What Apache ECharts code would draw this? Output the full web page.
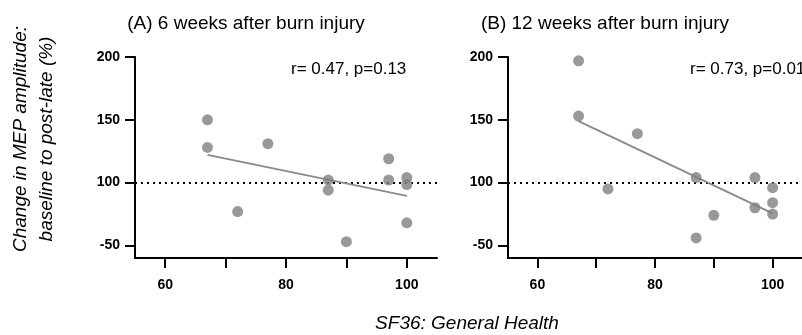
<!DOCTYPE html>
<html>
<head>
<meta charset="utf-8">
<script src="https://cdn.jsdelivr.net/npm/echarts@6/dist/echarts.min.js"></script>
<style>
  html, body { margin: 0; padding: 0; background: #fff; }
  #main { width: 802px; height: 335px; }
</style>
</head>
<body>
<div id="main"></div>
<script>
// panel A: 6 weeks
const sf36A = [67, 67, 72, 77, 87, 87, 90, 97, 97, 100, 100, 100]
const mepA = [150, 128, 77, 131, 102, 94, 53, 119, 102, 104, 98.5, 68]
const fitA = [[67, 122], [100, 89.5]]
// panel B: 12 weeks
const sf36B = [67, 67, 72, 77, 87, 87, 90, 97, 97, 100, 100, 100]
const mepB = [197, 153, 95, 139, 104, 56, 74, 104, 80, 96, 84, 75]
const fitB = [[67, 149], [100, 75.5]]

const titles = ['(A) 6 weeks after burn injury', '(B) 12 weeks after burn injury']
const stats = ['r= 0.47, p=0.13', 'r= 0.73, p=0.01']
const yTickValues = [50, 100, 150, 200]
const yTickLabels = ['-50', '100', '150', '200']
const xTickValues = [60, 70, 80, 90, 100]
const xLabelValues = [60, 80, 100]

const dom = echarts.init(document.getElementById('main'))

const pointColor = '#808080'
const font = 'Liberation Sans, Arial, sans-serif'

function toPairs (xs, ys) {
  return xs.map((x, i) => [x, ys[i]])
}

function makeX (gi) {
  return {
    type: 'value',
    gridIndex: gi,
    min: 55,
    max: 105,
    axisLine: { onZero: false, lineStyle: { color: '#000', width: 2 } },
    axisTick: { customValues: xTickValues, length: 10, lineStyle: { color: '#000', width: 2 } },
    axisLabel: {
      customValues: xLabelValues,
      margin: 20,
      color: '#000',
      fontWeight: 'bold',
      fontSize: 14,
      fontFamily: font
    },
    splitLine: { show: false }
  }
}

function makeY (gi) {
  return {
    type: 'value',
    gridIndex: gi,
    min: 40,
    max: 200,
    axisLine: { show: true, onZero: false, lineStyle: { color: '#000', width: 2 } },
    axisTick: { show: true, customValues: yTickValues, length: 10, lineStyle: { color: '#000', width: 2 } },
    axisLabel: {
      customValues: yTickValues,
      formatter: v => yTickLabels[yTickValues.indexOf(v)],
      margin: 15,
      color: '#000',
      fontWeight: 'bold',
      fontSize: 14,
      fontFamily: font
    },
    splitLine: { show: false }
  }
}

function makeSeries (gi, pts, fit) {
  return [{
    type: 'scatter',
    xAxisIndex: gi,
    yAxisIndex: gi,
    symbolSize: 11,
    itemStyle: { color: pointColor },
    data: pts,
    z: 3,
    markLine: {
      silent: true,
      symbol: 'none',
      label: { show: false },
      lineStyle: { color: '#000', width: 2, type: [2, 4] },
      data: [{ yAxis: 100 }],
      z: 1
    }
  }, {
    type: 'line',
    xAxisIndex: gi,
    yAxisIndex: gi,
    symbol: 'none',
    lineStyle: { color: '#8a8a8a', width: 1.8 },
    data: fit,
    z: 2
  }]
}

const option = {
  backgroundColor: '#fff',
  animation: false,
  grid: [
    { left: 135, top: 57, width: 302, height: 201 },
    { left: 508, top: 57, width: 302, height: 201 }
  ],
  xAxis: [makeX(0), makeX(1)],
  yAxis: [makeY(0), makeY(1)],
  series: [
    ...makeSeries(0, toPairs(sf36A, mepA), fitA),
    ...makeSeries(1, toPairs(sf36B, mepB), fitB)
  ],
  graphic: [
    { type: 'text', x: 246, y: 24, style: { text: titles[0], fontSize: 19, fontFamily: font, fill: '#000', align: 'center', verticalAlign: 'middle' } },
    { type: 'text', x: 605, y: 24, style: { text: titles[1], fontSize: 19, fontFamily: font, fill: '#000', align: 'center', verticalAlign: 'middle' } },
    { type: 'text', x: 291, y: 69, style: { text: stats[0], fontSize: 17, fontFamily: font, fill: '#000', align: 'left', verticalAlign: 'middle' } },
    { type: 'text', x: 690, y: 69, style: { text: stats[1], fontSize: 17, fontFamily: font, fill: '#000', align: 'left', verticalAlign: 'middle' } },
    {
      type: 'text', x: 34, y: 139, rotation: Math.PI / 2,
      style: {
        text: 'Change in MEP amplitude:\nbaseline to post-late (%)',
        fontSize: 19, fontStyle: 'italic', fontFamily: font, fill: '#000',
        align: 'center', verticalAlign: 'middle', lineHeight: 26
      }
    },
    { type: 'text', x: 467, y: 324, style: { text: 'SF36: General Health', fontSize: 19, fontStyle: 'italic', fontFamily: font, fill: '#000', align: 'center', verticalAlign: 'middle' } }
  ]
}

dom.setOption(option)
</script>
</body>
</html>
